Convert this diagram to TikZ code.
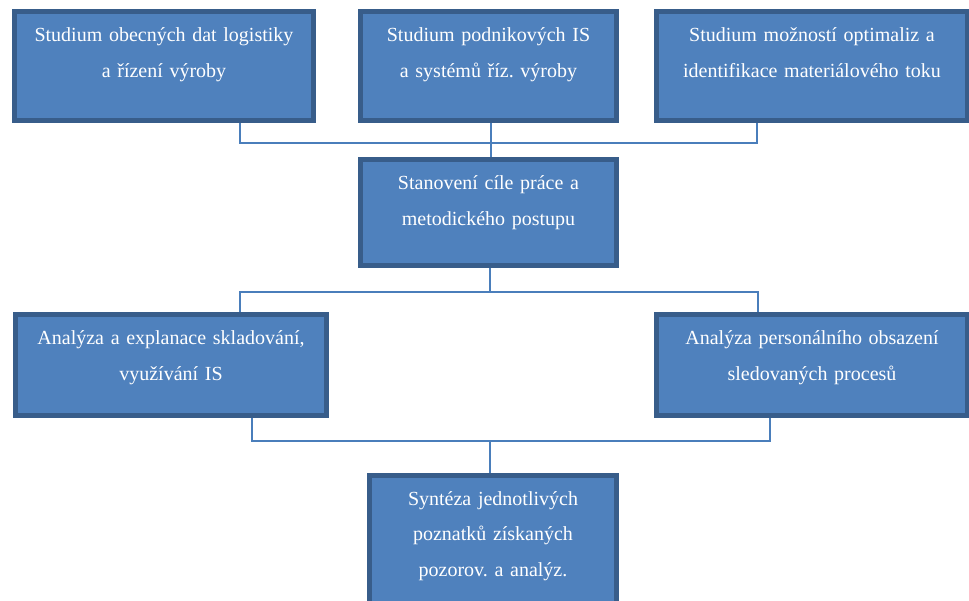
\documentclass[tikz,border=0pt]{standalone}
\usepackage{fontspec}
\setmainfont{Liberation Serif}
\usepackage{tikz}
\usetikzlibrary{positioning}
\usetikzlibrary{backgrounds}
\usetikzlibrary{calc}
\definecolor{boxfill}{HTML}{4F81BD}
\definecolor{boxline}{HTML}{385D8A}
\definecolor{busline}{HTML}{4A7EBB}
\tikzstyle{block}=[draw=boxline,fill=boxfill,line width=5pt,rectangle,inner sep=0pt]
\tikzstyle{caption}=[text=white,align=center,inner sep=0pt,anchor=base,font=\fontsize{20}{35.5}\selectfont\frenchspacing]
\tikzstyle{link}=[draw=busline,line width=2pt]

\begin{document}
\begin{tikzpicture}[x=1pt,y=-1pt]
\useasboundingbox (0,0) rectangle (969,601);
% boxes
\node [block,minimum width=299pt,minimum height=109pt] (b1) at (164,66) {};
\node [block,minimum width=256pt,minimum height=109pt] (b2) at (488.5,66) {};
\node [block,minimum width=311pt,minimum height=109pt] (b3) at (812,66) {};
\node [block,minimum width=256pt,minimum height=106pt] (c) at (488.5,212.5) {};
\node [block,minimum width=311pt,minimum height=101pt] (l) at (171,365) {};
\node [block,minimum width=311pt,minimum height=101pt] (r) at (812,365) {};
\node [block,minimum width=247pt,minimum height=142pt] (s) at (493,546.5) {};

% texts
\node [caption,text width=290pt] (t1) at ([yshift=-33pt]b1.north) {Studium obecných dat logistiky\\a řízení výroby};
\node [caption,text width=246pt] (t2) at ([yshift=-33pt]b2.north) {Studium podnikových IS\\a systémů říz. výroby};
\node [caption,text width=300pt] (t3) at ([yshift=-33pt]b3.north) {Studium možností optimaliz a\\identifikace materiálového toku};
\node [caption,text width=246pt] (tc) at ([yshift=-33pt]c.north) {Stanovení cíle práce a\\metodického postupu};
\node [caption,text width=300pt] (tl) at ([yshift=-33pt]l.north) {Analýza a explanace skladování,\\využívání IS};
\node [caption,text width=300pt] (tr) at ([yshift=-33pt]r.north) {Analýza personálního obsazení\\sledovaných procesů};
\node [caption,text width=237pt] (ts) at ([yshift=-32pt]s.north) {Syntéza jednotlivých\\poznatků získaných\\pozorov. a analýz.};

\coordinate (bus1) at (490.5,143);
\coordinate (bus2) at (490,292);
\coordinate (bus3) at (490,441);

\begin{scope}[on background layer]
\draw[link] ([xshift=76pt]b1.south) |- (bus1) -| ([xshift=-55pt]b3.south);
\draw[link] (b2.south -| bus1) -- (c.north -| bus1);
\draw[link] (c.south -| bus2) -- (bus2);
\draw[link] ([xshift=69pt]l.north) |- (bus2) -| ([xshift=-54pt]r.north);
\draw[link] ([xshift=81pt]l.south) |- (bus3) -| ([xshift=-42pt]r.south);
\draw[link] (bus3) -- (s.north -| bus3);
\end{scope}
\end{tikzpicture}
\end{document}
